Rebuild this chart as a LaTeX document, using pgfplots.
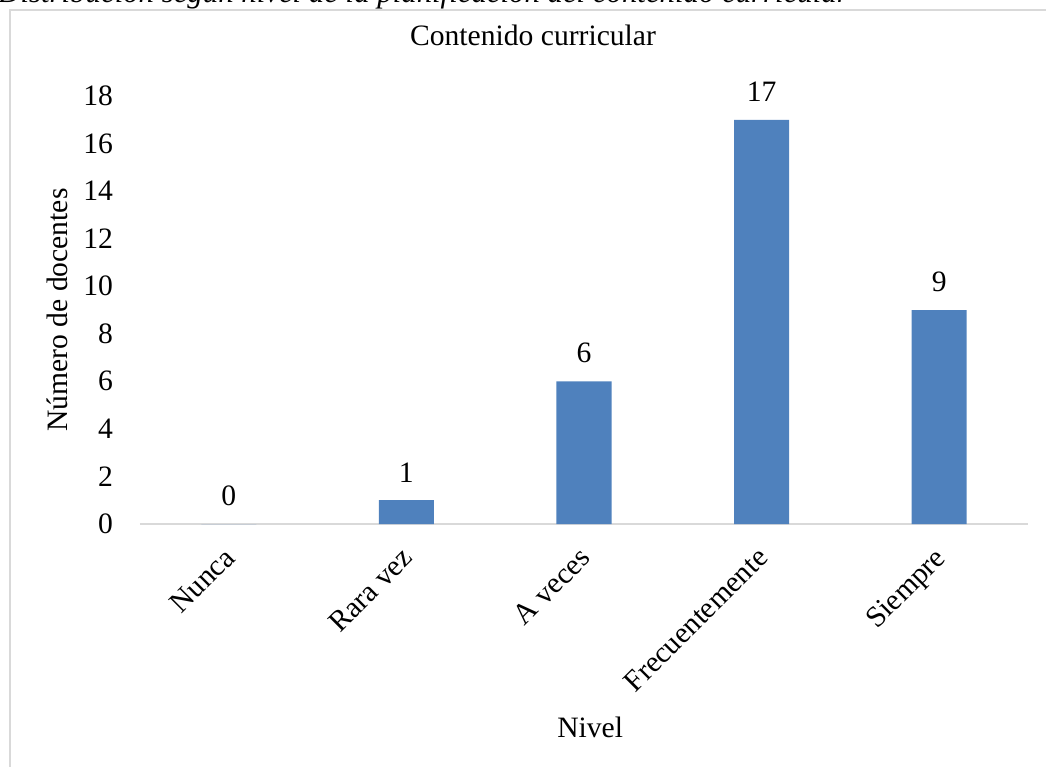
\documentclass[border=0pt]{standalone}
\usepackage{fontspec}
\setmainfont{Liberation Serif}
\usepackage{pgfplots}
\pgfplotsset{compat=1.18}
\definecolor{barblue}{RGB}{79,129,189}
\definecolor{framegray}{RGB}{217,217,217}

\begin{document}
\begin{tikzpicture}[font=\fontsize{14.8pt}{17pt}\selectfont]
% chart frame, partly outside the page like the cropped screenshot
\draw[framegray, line width=0.8pt] (5pt,-400pt) -- (5pt,-5pt) -- (540pt,-5pt);
\node[anchor=base west, inner sep=0pt, font=\fontsize{15.4pt}{18pt}\selectfont\itshape]
  at (-1pt,-1.2pt) {Distribución según nivel de la planificación del contenido curricular};

\begin{axis}[
  at={(70pt,-262pt)}, anchor=south west,
  scale only axis, width=444pt, height=214pt,
  ybar, bar width=0.31,
  xmin=-0.5, xmax=4.5, ymin=0, ymax=18,
  xtick=data,
  xticklabels={Nunca, Rara vez, A veces, Frecuentemente, Siempre},
  ytick={0,2,...,18},
  axis x line*=bottom, axis y line*=left,
  x axis line style={framegray, line width=1pt, -},
  y axis line style={draw=none},
  major tick length=0pt,
  /pgf/number format/assume math mode=true,
  yticklabel style={xshift=-10pt},
  xticklabel style={xshift=-3pt, yshift=-6pt, rotate=45, anchor=north east},
  title={Contenido curricular},
  title style={at={(axis description cs:0.4426,1.1145)}, anchor=center},
  xlabel={Nivel},
  xlabel style={at={(axis description cs:0.507,-0.474)}, anchor=center},
  ylabel={Número de docentes},
  ylabel style={at={(axis description cs:-0.0935,0.5)}, anchor=center},
  nodes near coords,
  nodes near coords style={anchor=center, yshift=14pt},
  clip=false,
]
\addplot[fill=barblue, draw=none] coordinates {(0,0) (1,1) (2,6) (3,17) (4,9)};
\end{axis}

\pgfresetboundingbox
\useasboundingbox (0,0) rectangle (523pt,-383.5pt);
\end{tikzpicture}
\end{document}
